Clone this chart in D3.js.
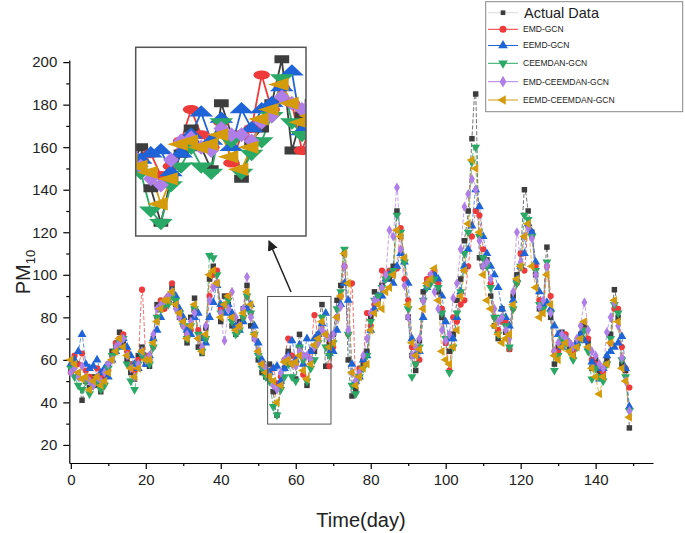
<!DOCTYPE html>
<html><head><meta charset="utf-8">
<script src="https://cdn.jsdelivr.net/npm/d3@7"></script>
<style>body{margin:0;background:#fff}svg{display:block;font-family:Arial,"Liberation Sans",sans-serif}</style>
</head><body><svg id="c" width="685" height="533"></svg>
<script>
const actual=[55,57,53,41,50,47,52,48,45,52, 58,64,66,73,68,60,54,51,62,66, 58,57,70,86,84,87,88,94,86,80, 78,68,80,89,66,63,75,98,104,96, 78,90,86,76,72,78,84,95,76,70, 60,54,52,58,45,34,48,56,64,58, 51,72,62,48,60,64,72,86,57,68, 72,88,95,110,60,43,46,54,58,64, 80,92,88,95,100,98,104,130,118,108, 80,62,55,69,92,96,98,100,92,80, 68,64,72,88,98,116,130,164,185,108, 104,107,90,76,70,84,73,65,90,100, 110,140,130,120,100,84,86,113,80,58, 66,73,70,66,62,68,72,76,68,56, 60,54,52,60,72,93,80,58,55,28];
const emdGcn=[54,62,58,63,55,52,50,56,52,49, 55,62,68,70,72,64,58,55,60,93, 62,60,66,80,88,84,90,96,88,82, 76,72,74,84,74,65,70,90,100,102, 84,86,90,80,74,76,80,90,82,72, 64,58,55,54,56,49,52,60,70,62, 58,66,53,62,64,81,70,77,72,57, 66,80,90,104,72,96,49,56,60,82, 76,86,90,102,100,102,100,103,122,98, 88,66,58,60,88,98,100,102,96,84, 68,55,80,78,86,88,104,118,130,128, 112,104,96,80,74,78,78,65,84,96, 110,102,123,118,104,88,84,104,90,64, 64,70,72,68,64,66,70,74,70,60, 58,56,54,58,68,84,84,66,56,47];
const eemdGcn=[58,60,64,72,58,56,57,60,54,56, 52,60,64,66,70,66,62,58,56,64, 58,62,70,74,80,86,88,92,90,84, 80,74,72,80,82,70,68,80,87,95, 86,82,86,82,76,74,78,84,86,76, 68,60,56,54,56,57,50,56,62,69, 60,67,58,70,64,70,72,77,82,63, 64,74,86,96,88,58,50,52,60,62, 74,84,90,90,98,100,96,104,110,106, 96,70,62,64,80,94,98,100,98,90, 78,70,70,80,92,104,112,123,140,132, 118,110,104,100,94,84,80,76,88,98, 104,110,124,120,106,92,86,87,84,76, 72,66,70,68,66,68,72,69,66,59, 56,51,56,62,64,66,68,71,56,38];
const ceemdanGcn=[56,52,48,46,50,44,48,50,46,48, 56,62,64,68,70,58,50,46,58,62, 60,58,66,80,84,86,86,90,88,82, 76,70,76,84,72,64,70,109,108,100, 82,86,88,78,72,74,80,90,82,72, 62,56,52,50,38,34,46,52,58,52, 50,66,60,50,56,60,68,80,66,62, 68,84,92,112,72,48,44,52,56,62, 78,88,90,94,98,100,102,128,120,106, 84,52,58,66,88,94,96,98,94,82, 70,54,66,82,92,110,120,153,160,118, 108,104,94,80,72,80,76,66,84,96, 104,128,126,118,102,86,84,106,82,55, 62,70,68,64,60,66,70,74,64,51, 56,52,50,58,70,86,82,60,52,36];
const emdCeemdanGcn=[54,56,52,57,52,50,48,52,50,54, 58,60,66,68,70,62,56,52,58,64, 60,62,72,84,86,88,90,92,84,80, 76,72,78,82,70,66,76,88,94,96, 82,69,84,92,80,76,84,99,80,70, 64,58,56,52,48,46,54,60,61,58, 57,64,62,62,60,66,68,74,72,70, 72,80,85,104,74,54,50,54,62,70, 82,88,87,94,100,121,118,141,112,95, 80,62,66,70,88,96,100,92,84,74, 69,72,89,96,112,132,138,145,140,116, 104,106,98,84,78,80,74,70,92,120, 106,118,122,117,100,85,88,104,82,64, 68,72,70,68,66,70,76,87,74,64, 62,58,56,73,80,87,76,61,50,36];
const eemdCeemdanGcn=[60,58,54,51,52,46,50,52,48,50, 54,60,64,70,66,62,56,52,56,64, 60,60,68,78,84,88,88,92,86,82, 78,70,76,86,70,64,72,100,102,96, 80,86,90,80,74,76,82,92,86,72, 64,58,54,52,50,40,48,59,60,58, 59,62,55,51,58,67,70,78,72,66, 68,80,90,110,96,54,48,52,56,58, 74,82,86,84,92,94,100,121,118,108, 86,68,62,65,84,96,98,103,88,64, 60,58,66,74,90,102,124,154,150,120, 100,88,84,76,72,68,70,72,86,98, 104,118,124,104,94,80,82,100,86,62, 60,66,68,64,62,66,70,78,66,56, 52,44,52,58,68,88,78,56,50,33];

const seriesNames=["Actual Data","EMD-GCN","EEMD-GCN","CEEMDAN-GCN","EMD-CEEMDAN-GCN","EEMD-CEEMDAN-GCN"];
const seriesValues=[actual,emdGcn,eemdGcn,ceemdanGcn,emdCeemdanGcn,eemdCeemdanGcn];
const seriesColors=["#3d3d3d","#ee3a3a","#1e64d8","#2aa866","#b07ee8","#d49b0c"];
const seriesShapes=["square","circle","up","down","diamond","left"];
const xTicks=[0,20,40,60,80,100,120,140];
const xMinor=[10,30,50,70,90,110,130,150];
const yTicks=[20,40,60,80,100,120,140,160,180,200];
const yMinor=[30,50,70,90,110,130,150,170,190];
const zoomDays=[52.5,69.4];
const zoomVals=[29.8,89.8];

const svg=d3.select("#c");
const x=d3.scaleLinear().domain([-0.4,155.3]).range([69.3,653]);
const y=d3.scaleLinear().domain([11.5,201]).range([463,60]);
const days=actual.map((_,i)=>i);

function symPath(shape,size){
  const t={square:d3.symbolSquare,circle:d3.symbolCircle,up:d3.symbolTriangle,down:d3.symbolTriangle,diamond:d3.symbolDiamond,left:d3.symbolTriangle}[shape];
  return d3.symbol(t,size)();
}
function symRot(shape){return shape==="down"?180:shape==="left"?-90:0;}
const sizes={square:30,circle:30,up:34,down:34,diamond:30,left:34};

// axes
const axStyle=g=>{g.selectAll("path,line").attr("stroke","#000").attr("stroke-width",1.2);g.selectAll("text").attr("font-size",15).attr("fill","#222").attr("font-family","Arial, 'Liberation Sans', sans-serif");};
svg.append("g").attr("transform","translate(0,463)").call(d3.axisBottom(x).tickValues(xMinor).tickSize(3).tickFormat("").tickSizeOuter(0)).call(axStyle).select(".domain").remove();
svg.append("g").attr("transform","translate(0,463)").call(d3.axisBottom(x).tickValues(xTicks).tickSize(6).tickPadding(5).tickSizeOuter(0)).call(axStyle);
svg.append("g").attr("transform","translate(69.3,0)").call(d3.axisLeft(y).tickValues(yMinor).tickSize(3).tickFormat("").tickSizeOuter(0)).call(axStyle).select(".domain").remove();
svg.append("g").attr("transform","translate(69.3,0)").call(d3.axisLeft(y).tickValues(yTicks).tickSize(6).tickPadding(6).tickSizeOuter(0)).call(axStyle);

// axis titles
const yl=svg.append("text").attr("transform","translate(30,272) rotate(-90)").attr("text-anchor","middle").attr("font-size",20).attr("fill","#222");
yl.append("tspan").text("PM");
yl.append("tspan").text("10").attr("font-size",13).attr("dy",5);
svg.append("text").attr("x",361).attr("y",527).attr("text-anchor","middle").attr("font-size",20).attr("fill","#222").text("Time(day)");

// main series
const mainG=svg.append("g");
seriesValues.forEach((vals,k)=>{
  const line=d3.line().x(i=>x(i)).y(i=>y(vals[i])).curve(d3.curveCardinal.tension(0.3));
  mainG.append("path").attr("d",line(days)).attr("fill","none").attr("stroke",seriesColors[k]).attr("stroke-width",0.8).attr("stroke-dasharray","4,2").attr("opacity",0.9);
});
seriesValues.forEach((vals,k)=>{
  const sh=seriesShapes[k];
  mainG.append("g").selectAll("path").data(days).join("path")
    .attr("d",symPath(sh,sizes[sh]))
    .attr("transform",i=>`translate(${x(i)},${y(vals[i])}) rotate(${symRot(sh)})`)
    .attr("fill",seriesColors[k]);
});

// zoom rectangle
svg.append("rect").attr("x",x(zoomDays[0])).attr("y",y(zoomVals[1])).attr("width",x(zoomDays[1])-x(zoomDays[0])).attr("height",y(zoomVals[0])-y(zoomVals[1]))
  .attr("fill","none").attr("stroke","#555").attr("stroke-width",1);

// inset
const inset={x0:135.7,x1:306,y0:47.3,y1:236};
const xi=d3.scaleLinear().domain(zoomDays).range([inset.x0,inset.x1]);
const yi=d3.scaleLinear().domain(zoomVals).range([inset.y1,inset.y0]);
const sx=(inset.x1-inset.x0)/(x(zoomDays[1])-x(zoomDays[0]));
const sy=(inset.y1-inset.y0)/(y(zoomVals[0])-y(zoomVals[1]));
svg.append("defs").append("clipPath").attr("id","ic").append("rect").attr("x",inset.x0).attr("y",inset.y0).attr("width",inset.x1-inset.x0).attr("height",inset.y1-inset.y0);
svg.append("rect").attr("x",inset.x0).attr("y",inset.y0).attr("width",inset.x1-inset.x0).attr("height",inset.y1-inset.y0).attr("fill","#fff");
const ig=svg.append("g").attr("clip-path","url(#ic)");
const idays=days.filter(d=>d>=51&&d<=71);
seriesValues.forEach((vals,k)=>{
  const line=d3.line().x(i=>xi(i)).y(i=>yi(vals[i]));
  ig.append("path").attr("d",line(idays)).attr("fill","none").attr("stroke",seriesColors[k]).attr("stroke-width",1.8);
});
seriesValues.forEach((vals,k)=>{
  const sh=seriesShapes[k];
  ig.append("g").selectAll("path").data(idays).join("path")
    .attr("d",symPath(sh,sizes[sh]))
    .attr("transform",i=>`translate(${xi(i)},${yi(vals[i])}) scale(${sx},${sy}) rotate(${symRot(sh)})`)
    .attr("fill",seriesColors[k]);
});
svg.append("rect").attr("x",inset.x0).attr("y",inset.y0).attr("width",inset.x1-inset.x0).attr("height",inset.y1-inset.y0).attr("fill","none").attr("stroke","#555").attr("stroke-width",1.5);

// arrow
svg.append("defs").append("marker").attr("id","ah").attr("viewBox","0 0 10 10").attr("refX",9).attr("refY",5).attr("markerWidth",7).attr("markerHeight",7).attr("orient","auto")
  .append("path").attr("d","M0,0L10,5L0,10z").attr("fill","#222");
svg.append("line").attr("x1",291).attr("y1",292).attr("x2",269).attr("y2",241).attr("stroke","#222").attr("stroke-width",1.5).attr("marker-end","url(#ah)");

// legend
const lg=svg.append("g");
lg.append("rect").attr("x",485.7).attr("y",1.7).attr("width",197).attr("height",110).attr("fill","#fff").attr("stroke","#888").attr("stroke-width",1);
const ly=[12.7,29.3,45.5,63.3,81.7,100];
seriesNames.forEach((n,k)=>{
  const g=lg.append("g").attr("transform",`translate(0,${ly[k]})`);
  g.append("line").attr("x1",488).attr("x2",518).attr("stroke",seriesColors[k]).attr("stroke-width",k===0?0.6:1).attr("opacity",k===0?0.3:1);
  const sh=seriesShapes[k];
  g.append("path").attr("d",symPath(sh,k===0?22:40)).attr("transform",`translate(503,0) rotate(${symRot(sh)})`).attr("fill",seriesColors[k]);
  g.append("text").attr("x",k===0?524:523).attr("y",0).attr("dy","0.35em").attr("font-size",k===0?14.5:8.5).attr("fill","#222").text(n);
});
</script></body></html>
